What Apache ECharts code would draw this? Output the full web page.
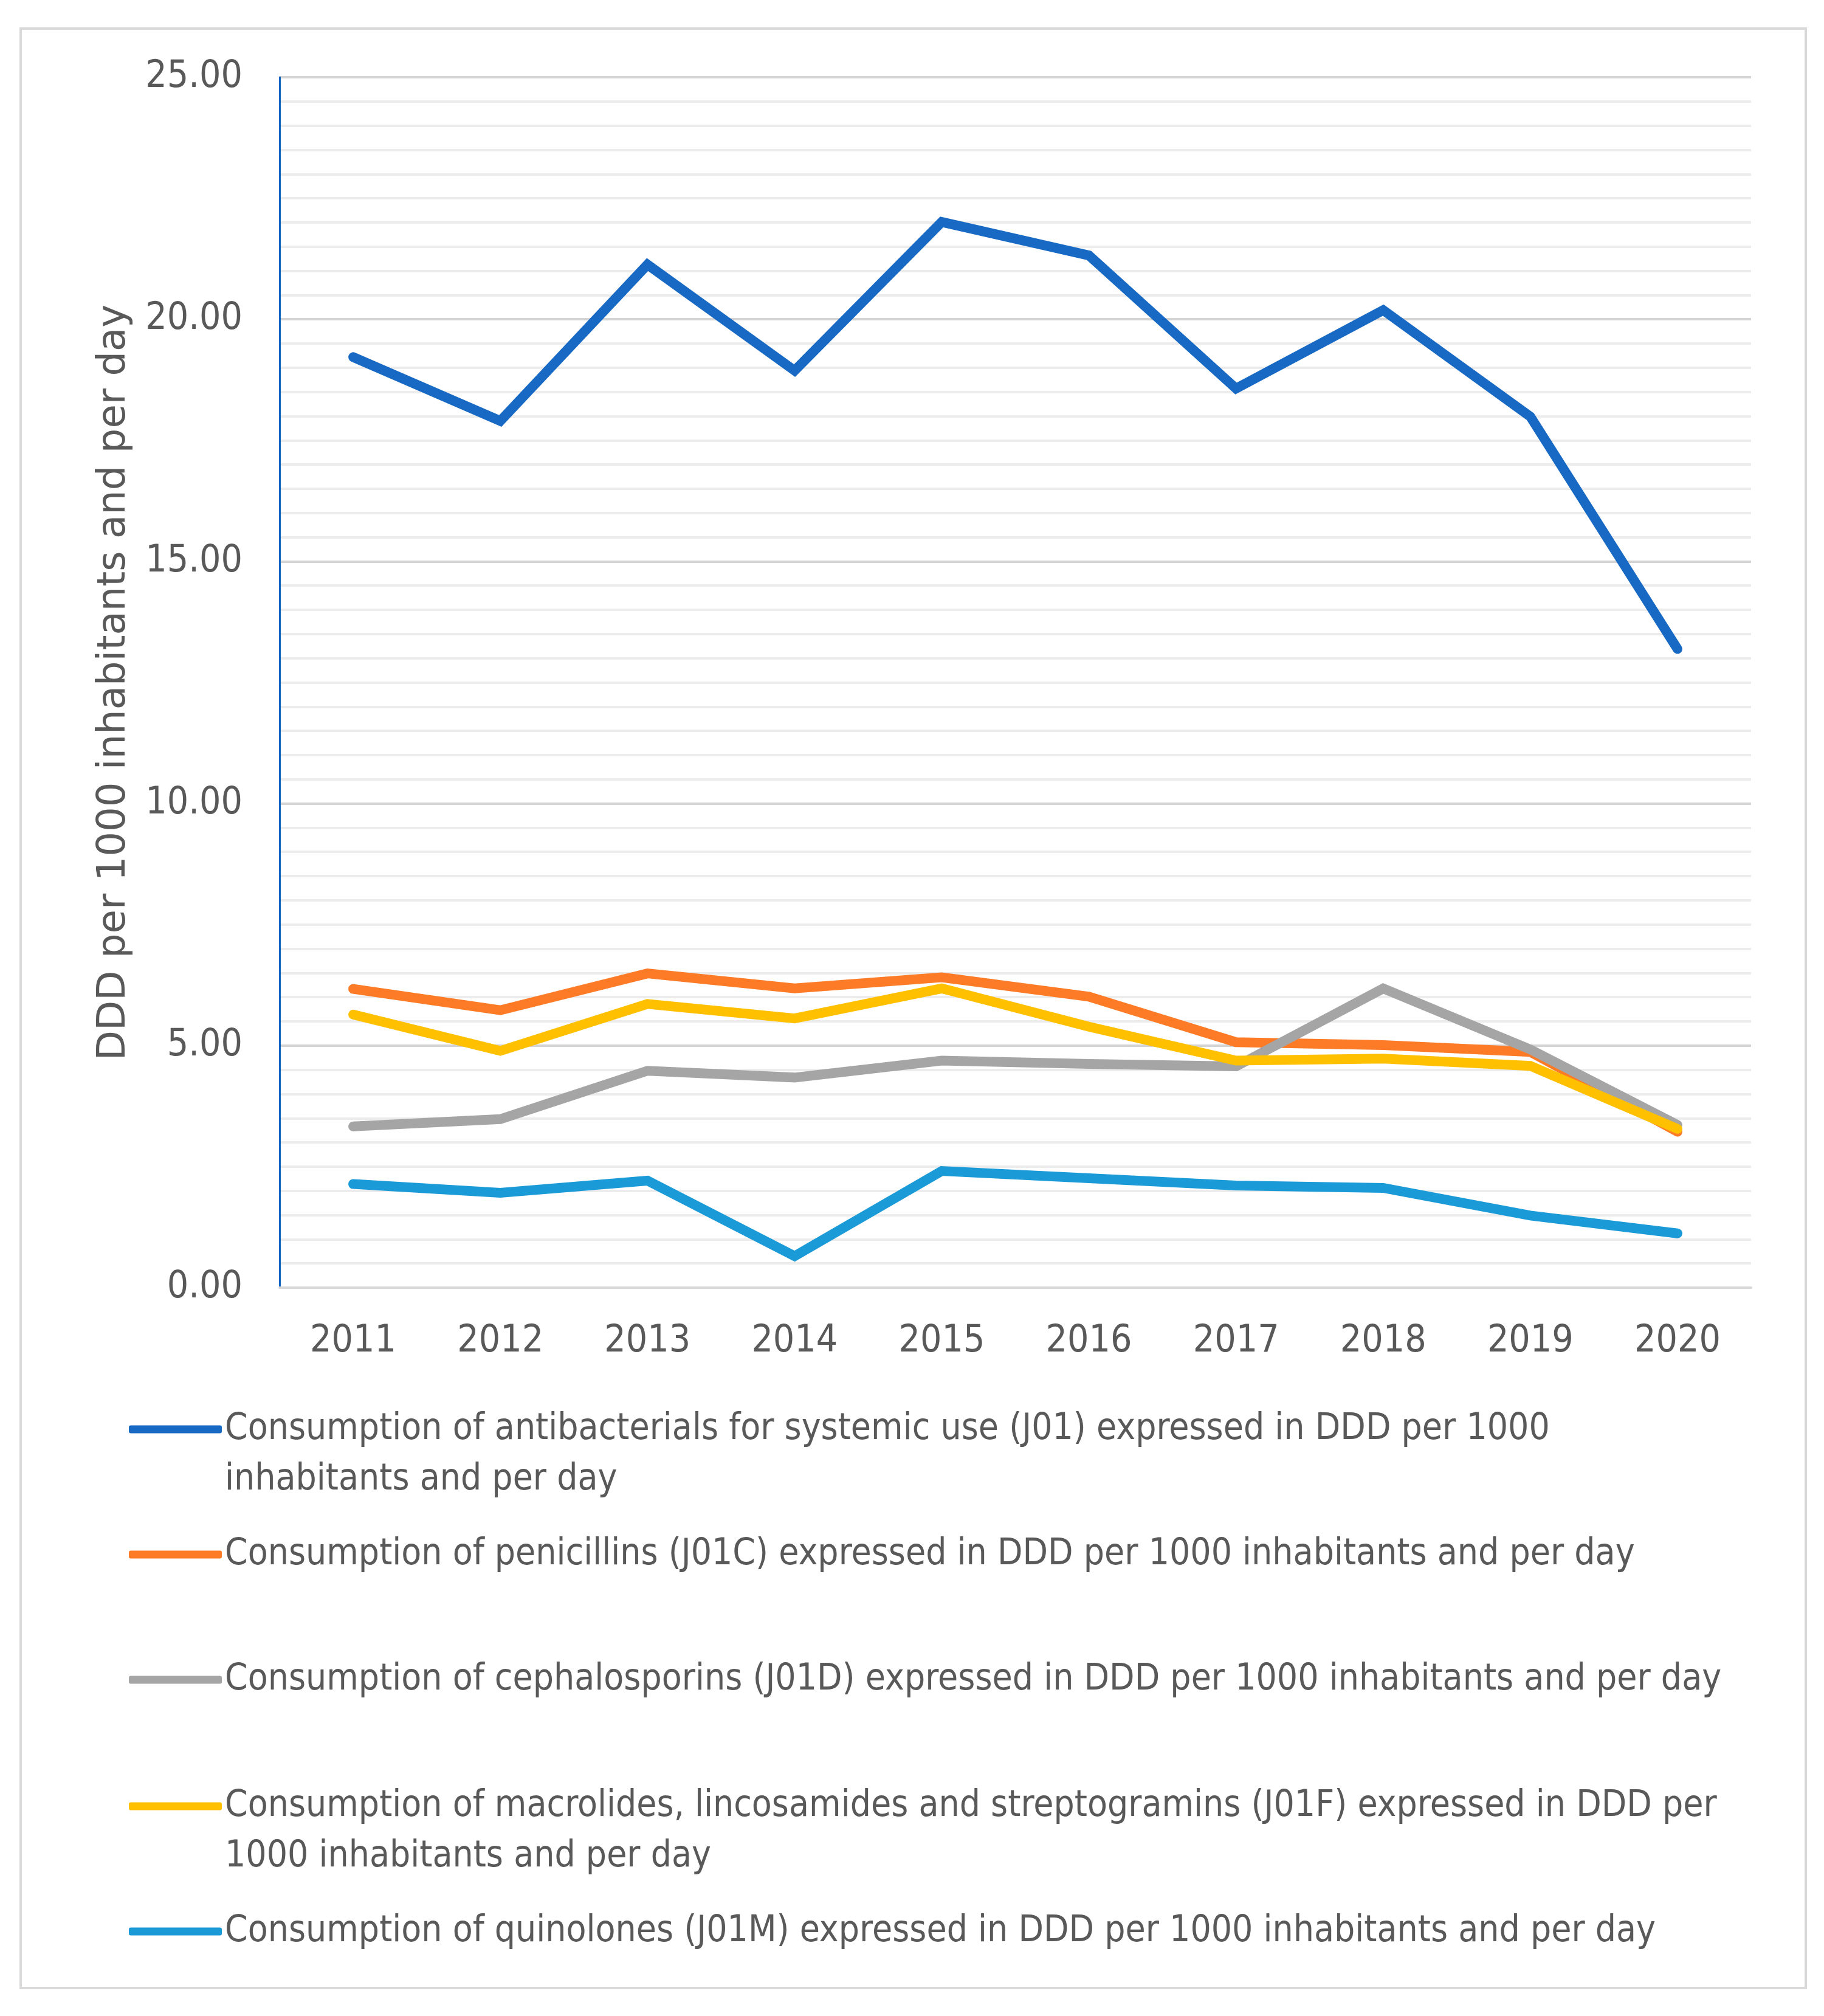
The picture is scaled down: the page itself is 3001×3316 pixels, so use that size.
<!DOCTYPE html>
<html>
<head>
<meta charset="utf-8">
<script src="https://cdn.jsdelivr.net/npm/echarts@6/dist/echarts.min.js"></script>
<style>
  html, body { margin: 0; padding: 0; background: #fff; }
  #chart { width: 3001px; height: 3316px; }
</style>
</head>
<body>
<div id="chart"></div>
<script>
// years on the x axis
const years = ['2011', '2012', '2013', '2014', '2015', '2016', '2017', '2018', '2019', '2020'];

// DDD per 1000 inhabitants and per day
const j01 = [19.22, 17.90, 21.13, 18.94, 22.01, 21.32, 18.57, 20.19, 17.99, 13.19];
const j01c = [6.17, 5.73, 6.49, 6.18, 6.41, 6.01, 5.07, 5.01, 4.87, 3.22];
const j01d = [3.33, 3.48, 4.48, 4.34, 4.69, 4.62, 4.57, 6.18, 4.92, 3.36];
const j01f = [5.64, 4.89, 5.86, 5.56, 6.18, 5.39, 4.69, 4.73, 4.58, 3.28];
const j01m = [2.14, 1.96, 2.21, 0.65, 2.41, 2.26, 2.11, 2.06, 1.49, 1.12];

const seriesNames = [
  'Consumption of antibacterials for systemic use (J01) expressed in DDD per 1000 inhabitants and per day',
  'Consumption of penicillins (J01C) expressed in DDD per 1000 inhabitants and per day',
  'Consumption of cephalosporins (J01D) expressed in DDD per 1000 inhabitants and per day',
  'Consumption of macrolides, lincosamides and streptogramins (J01F) expressed in DDD per 1000 inhabitants and per day',
  'Consumption of quinolones (J01M) expressed in DDD per 1000 inhabitants and per day'
];
// how the legend text wraps in the original
const legendLines = [
  ['Consumption of antibacterials for systemic use (J01) expressed in DDD per 1000', 'inhabitants and per day'],
  ['Consumption of penicillins (J01C) expressed in DDD per 1000 inhabitants and per day'],
  ['Consumption of cephalosporins (J01D) expressed in DDD per 1000 inhabitants and per day'],
  ['Consumption of macrolides, lincosamides and streptogramins (J01F) expressed in DDD per', '1000 inhabitants and per day'],
  ['Consumption of quinolones (J01M) expressed in DDD per 1000 inhabitants and per day']
];
const yTicks = { min: 0, max: 25, interval: 5 };

const colors = ['#1769c4', '#fd7b26', '#a5a5a5', '#ffc000', '#1b9ad8'];
const values = [j01, j01c, j01d, j01f, j01m];

const narrow = '"Liberation Sans Narrow", "DejaVu Sans Condensed", Roboto, sans-serif';
const textGrey = '#595959';
const lineH = 83;
const legendCenters = [2351, 2557, 2763, 2971, 3177];

const chart = echarts.init(document.getElementById('chart'));

// legend text is centred on its icon, so a wrapped entry gets an empty
// leading line to keep the icon level with the first line of text
const legends = seriesNames.map((name, i) => {
  const lines = legendLines[i];
  const twoLines = lines.length > 1;
  return {
    data: [name],
    orient: 'vertical',
    left: 212,
    top: legendCenters[i] - (twoLines ? 1.5 * lineH : lineH / 2),
    padding: 0,
    icon: 'roundRect',
    itemWidth: 153,
    itemHeight: 13,
    itemGap: 0,
    selectedMode: false,
    formatter: () => (twoLines ? ' \n' : '') + lines.join('\n'),
    textStyle: {
      fontFamily: narrow,
      fontSize: 60,
      color: textGrey,
      lineHeight: lineH
    }
  };
});

chart.setOption({
  animation: false,
  color: colors,
  graphic: [{
    type: 'rect',
    shape: { x: 34, y: 47, width: 2937, height: 3223 },
    style: { fill: 'none', stroke: '#d9d9d9', lineWidth: 4 },
    silent: true
  }],
  grid: { left: 460, right: 120, top: 127, bottom: 1198, containLabel: false },
  legend: legends,
  xAxis: {
    type: 'category',
    data: years,
    boundaryGap: true,
    axisLine: { show: true, lineStyle: { color: '#d9d9d9', width: 4 } },
    axisTick: { show: false },
    axisLabel: { fontFamily: narrow, fontSize: 62, color: textGrey, margin: 58 },
    splitLine: { show: false }
  },
  yAxis: {
    type: 'value',
    min: yTicks.min,
    max: yTicks.max,
    interval: yTicks.interval,
    name: 'DDD per 1000 inhabitants and per day',
    nameLocation: 'middle',
    nameGap: 240,
    nameTextStyle: { fontFamily: '"DejaVu Sans", sans-serif', fontSize: 64, color: textGrey },
    axisLine: { show: true, lineStyle: { color: '#1565c0', width: 3 } },
    axisTick: { show: false },
    axisLabel: {
      fontFamily: narrow, fontSize: 62, color: textGrey, margin: 61,
      formatter: v => v.toFixed(2)
    },
    splitLine: { show: true, lineStyle: { color: '#d4d4d4', width: 4 } },
    minorTick: { show: false, splitNumber: 10 },
    minorSplitLine: { show: true, lineStyle: { color: '#ececec', width: 4 } }
  },
  series: values.map((vals, i) => ({
    name: seriesNames[i],
    type: 'line',
    data: vals,
    showSymbol: false,
    symbol: 'none',
    lineStyle: { width: 16, color: colors[i], cap: 'round', join: 'miter' },
    emphasis: { disabled: true }
  }))
});
</script>
</body>
</html>
